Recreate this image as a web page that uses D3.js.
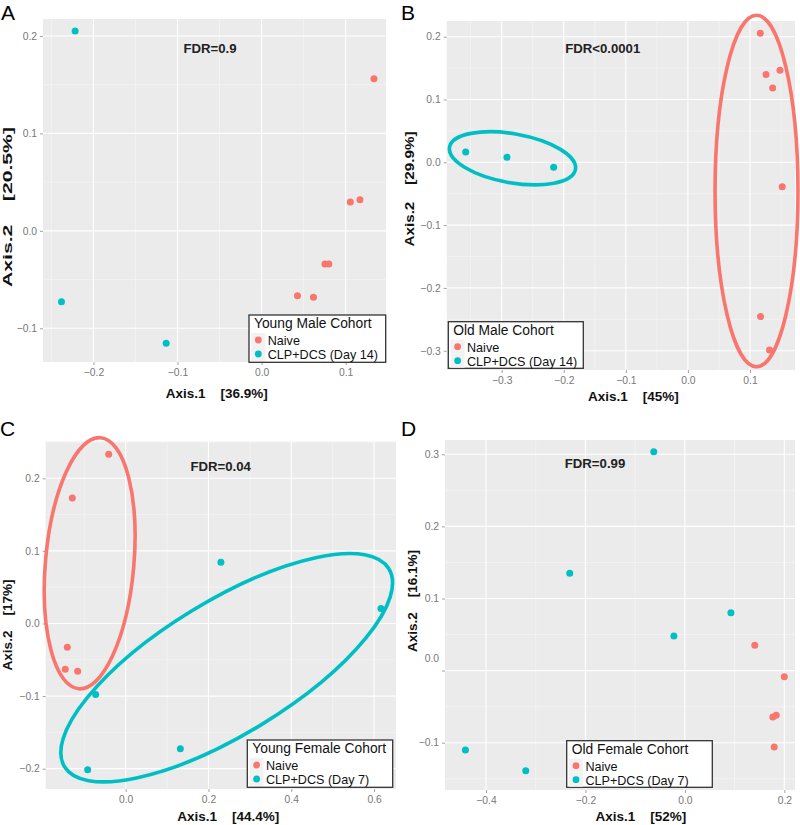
<!DOCTYPE html>
<html><head><meta charset="utf-8">
<script src="https://cdn.jsdelivr.net/npm/d3@7"></script>
<style>
body{margin:0;background:#fff}
text{font-family:"Liberation Sans",Arial,sans-serif}
</style>
</head><body>
<svg id="c" width="800" height="825"></svg>
<script>
// ---- data ----
const groupNames = ["Naive", "CLP+DCS"];
const groupColors = ["#F8766D", "#00BFC4"];

// Panel A (Young Male Cohort)
const aNaive = [[0.1337,0.156],[0.1056,0.0297],[0.117,0.032],[0.0754,-0.0341],[0.080,-0.034],[0.0427,-0.0665],[0.0617,-0.0682]];
const aClp   = [[-0.2218,0.205],[-0.238,-0.0727],[-0.1135,-0.1154]];
const aXTicks = [-0.2,-0.1,0.0,0.1];
const aYTicks = [-0.1,0.0,0.1,0.2];

// Panel B (Old Male Cohort)
const bNaive = [[0.1166,0.2054],[0.1258,0.140],[0.1483,0.1467],[0.1365,0.1185],[0.1519,-0.0389],[0.117,-0.2457],[0.1315,-0.299]];
const bClp   = [[-0.358,0.0164],[-0.2915,0.008],[-0.2163,-0.008]];
const bXTicks = [-0.3,-0.2,-0.1,0.0,0.1];
const bYTicks = [-0.3,-0.2,-0.1,0.0,0.1,0.2];
const bEllipses = [
  {g:1, cx:-0.2826, cy:0.0064, rx:0.103, ry:0.039, angle:10},
  {g:0, cx:0.1105, cy:-0.0457, rx:0.0668, ry:0.2798, angle:0}
];

// Panel C (Young Female Cohort)
const cNaive = [[-0.041,0.233],[-0.129,0.1729],[-0.141,-0.0326],[-0.146,-0.063],[-0.116,-0.0657]];
const cClp   = [[0.230,0.0844],[0.6167,0.0207],[-0.0725,-0.0977],[0.132,-0.1725],[-0.0918,-0.2014]];
const cXTicks = [0.0,0.2,0.4,0.6];
const cYTicks = [-0.2,-0.1,0.0,0.1,0.2];
const cEllipses = [
  {g:0, cx:-0.087, cy:0.083, rx:0.1068, ry:0.1736, angle:5},
  {g:1, cx:0.244, cy:-0.0609, rx:0.459, ry:0.0919, angle:-31.4}
];

// Panel D (Old Female Cohort)
const dNaive = [[0.1406,0.0351],[0.2,-0.0085],[0.1769,-0.0644],[0.1837,-0.062],[0.1797,-0.106]];
const dClp   = [[-0.0626,0.3036],[-0.2316,0.135],[0.0926,0.0803],[-0.0221,0.048],[-0.4414,-0.110],[-0.3201,-0.1388]];
const dXTicks = [-0.4,-0.2,0.0,0.2];
const dYTicks = [-0.1,0.0,0.1,0.2,0.3];

// ---- panel layout ----
const panels = [
  {label:"A", lx:1, ly:20, box:{l:43,r:386,t:19,b:362}, xd:[-0.26,0.148], yd:[-0.1346,0.2174],
   xt:aXTicks, yt:aYTicks, pts:[aNaive,aClp], ell:[], fdr:"FDR=0.9", fx:210, fy:52.5,
   xTitle:"Axis.1    [36.9%]", xtx:216.7, xty:398, yTitle:"Axis.2    [20.5%]", ytx:12, yty:207, ytl:160,
   leg:{title:"Young Male Cohort", day:"(Day 14)", x:249, y:315, w:136.7, h:47.3}},
  {label:"B", lx:401, ly:20, box:{l:446.7,r:795,t:21,b:370}, xd:[-0.3886,0.1725], yd:[-0.3307,0.225],
   xt:bXTicks, yt:bYTicks, pts:[bNaive,bClp], ell:bEllipses, fdr:"FDR<0.0001", fx:602.7, fy:52.7,
   xTitle:"Axis.1    [45%]", xtx:633.3, xty:401.3, yTitle:"Axis.2    [29.9%]", ytx:414, yty:189, ytl:115,
   leg:{title:"Old Male Cohort", day:"(Day 14)", x:448.3, y:321.7, w:135, h:46.6}},
  {label:"C", lx:0, ly:436, box:{l:45.7,r:396,t:441.7,b:789}, xd:[-0.1932,0.653], yd:[-0.228,0.2504],
   xt:cXTicks, yt:cYTicks, pts:[cNaive,cClp], ell:cEllipses, fdr:"FDR=0.04", fx:220.7, fy:471,
   xTitle:"Axis.1    [44.4%]", xtx:228.3, xty:821.3, yTitle:"Axis.2    [17%]", ytx:12, yty:625, ytl:0,
   leg:{title:"Young Female Cohort", day:"(Day 7)", x:247.3, y:740, w:145.4, h:47.3}},
  {label:"D", lx:401, ly:436, box:{l:445,r:795,t:440,b:790}, xd:[-0.4825,0.2215], yd:[-0.1656,0.3198],
   xt:dXTicks, yt:dYTicks, pts:[dNaive,dClp], ell:[], fdr:"FDR=0.99", fx:595, fy:468.3,
   xTitle:"Axis.1    [52%]", xtx:640.8, xty:821, yTitle:"Axis.2    [16.1%]", ytx:417, yty:601, ytl:0,
   leg:{title:"Old Female Cohort", day:"(Day 7)", x:566.7, y:740.7, w:145.6, h:46.6},
   yLabelShift:{"0.0":-12}}
];

const svg = d3.select("#c");
const fmt = d3.format(".1f");

function minorTicks(ticks, dom){
  const step = ticks[1]-ticks[0], out=[];
  for(let i=-1;i<ticks.length;i++){
    const v = ticks[0]+(i+0.5)*step;
    if(v>=Math.min(...dom) && v<=Math.max(...dom)) out.push(v);
  }
  return out;
}

panels.forEach(p=>{
  const g = svg.append("g");
  const x = d3.scaleLinear().domain(p.xd).range([p.box.l,p.box.r]);
  const y = d3.scaleLinear().domain(p.yd).range([p.box.b,p.box.t]);

  g.append("rect").attr("x",p.box.l).attr("y",p.box.t)
    .attr("width",p.box.r-p.box.l).attr("height",p.box.b-p.box.t).attr("fill","#EBEBEB");

  // minor grid
  g.selectAll(null).data(minorTicks(p.xt,p.xd)).enter().append("line")
    .attr("x1",d=>x(d)).attr("x2",d=>x(d)).attr("y1",p.box.t).attr("y2",p.box.b)
    .attr("stroke","#F7F7F7").attr("stroke-width",0.6);
  g.selectAll(null).data(minorTicks(p.yt,p.yd)).enter().append("line")
    .attr("y1",d=>y(d)).attr("y2",d=>y(d)).attr("x1",p.box.l).attr("x2",p.box.r)
    .attr("stroke","#F7F7F7").attr("stroke-width",0.6);
  // major grid
  g.selectAll(null).data(p.xt).enter().append("line")
    .attr("x1",d=>x(d)).attr("x2",d=>x(d)).attr("y1",p.box.t).attr("y2",p.box.b)
    .attr("stroke","#FFFFFF").attr("stroke-width",1.1);
  g.selectAll(null).data(p.yt).enter().append("line")
    .attr("y1",d=>y(d)).attr("y2",d=>y(d)).attr("x1",p.box.l).attr("x2",p.box.r)
    .attr("stroke","#FFFFFF").attr("stroke-width",1.1);

  // axes
  const ax = g.append("g").attr("transform",`translate(0,${p.box.b})`)
    .call(d3.axisBottom(x).tickValues(p.xt).tickSize(3).tickPadding(4).tickFormat(fmt));
  const ay = g.append("g").attr("transform",`translate(${p.box.l},0)`)
    .call(d3.axisLeft(y).tickValues(p.yt).tickSize(3).tickPadding(3).tickFormat(fmt));
  [ax,ay].forEach(a=>{
    a.select(".domain").remove();
    a.selectAll(".tick line").attr("stroke","#8a8a8a").attr("stroke-width",0.8);
    a.selectAll(".tick text").attr("fill","#777").attr("font-size",10.3)
      .style("font-family","'Liberation Sans',Arial,sans-serif");
  });
  if(p.yLabelShift){
    ay.selectAll(".tick text").attr("transform",d=>{
      const s = p.yLabelShift[fmt(d)];
      return s ? `translate(0,${s})` : null;
    });
  }

  // ellipses
  p.ell.forEach(e=>{
    const cx=x(e.cx), cy=y(e.cy);
    g.append("ellipse").attr("cx",cx).attr("cy",cy)
      .attr("rx",Math.abs(x(e.cx+e.rx)-cx)).attr("ry",Math.abs(y(e.cy+e.ry)-cy))
      .attr("transform",`rotate(${e.angle},${cx},${cy})`)
      .attr("fill","none").attr("stroke",groupColors[e.g]).attr("stroke-width",3.6);
  });

  // points
  p.pts.forEach((arr,gi)=>{
    g.selectAll(null).data(arr).enter().append("circle")
      .attr("cx",d=>x(d[0])).attr("cy",d=>y(d[1])).attr("r",3.5)
      .attr("fill",groupColors[gi]);
  });

  // FDR annotation
  g.append("text").attr("x",p.fx).attr("y",p.fy).attr("text-anchor","middle")
    .attr("font-size",13.2).attr("font-weight","bold").attr("fill","#222").text(p.fdr);

  // axis titles
  g.append("text").attr("x",p.xtx).attr("y",p.xty).attr("text-anchor","middle")
    .attr("font-size",13.5).attr("font-weight","bold").attr("fill","#111")
    .attr("xml:space","preserve").style("white-space","pre").text(p.xTitle);
  const yt = g.append("text").attr("transform",`translate(${p.ytx},${p.yty}) rotate(-90)`)
    .attr("text-anchor","middle").attr("font-size",13.5).attr("font-weight","bold").attr("fill","#111")
    .attr("xml:space","preserve").style("white-space","pre").text(p.yTitle);
  if(p.ytl) yt.attr("textLength",p.ytl).attr("lengthAdjust","spacingAndGlyphs");

  // panel label
  g.append("text").attr("x",p.lx).attr("y",p.ly).attr("font-size",21).attr("fill","#000").text(p.label);

  // legend
  const L = p.leg;
  const lg = g.append("g").attr("transform",`translate(${L.x},${L.y})`);
  lg.append("rect").attr("width",L.w).attr("height",L.h).attr("fill","#fff")
    .attr("stroke","#333").attr("stroke-width",1.3);
  lg.append("text").attr("x",5).attr("y",13.3).attr("font-size",13.8).attr("fill","#111").text(L.title);
  const labels = [groupNames[0], groupNames[1]+" "+L.day];
  labels.forEach((t,i)=>{
    lg.append("rect").attr("x",2.3).attr("y",18+i*14).attr("width",14).attr("height",14).attr("fill","#F2F2F2");
    lg.append("circle").attr("cx",9.3).attr("cy",25+i*14).attr("r",3.4).attr("fill",groupColors[i]);
    lg.append("text").attr("x",18.7).attr("y",30+i*14).attr("font-size",12.6).attr("fill","#111").text(t);
  });
});
</script>
</body></html>
